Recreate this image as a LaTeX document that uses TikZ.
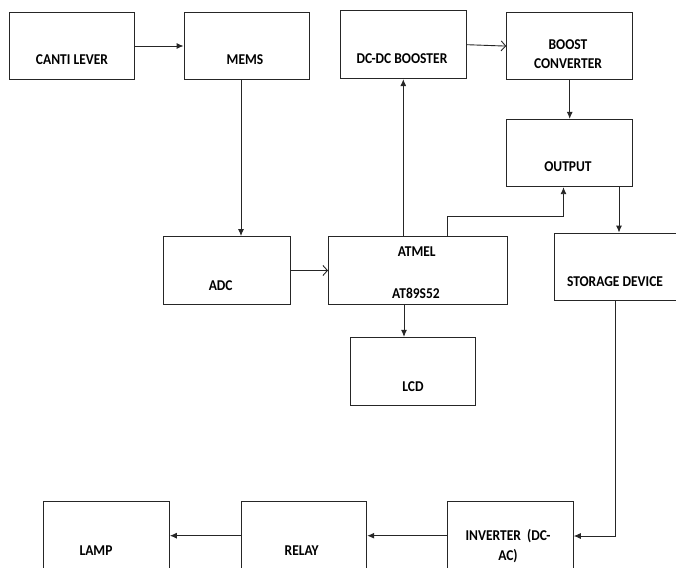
\documentclass[tikz,border=0pt]{standalone}
\usepackage{fontspec}
\setmainfont{Carlito}[FakeStretch=0.9]
\usetikzlibrary{arrows.meta}
\begin{document}
\begin{tikzpicture}[x=1pt,y=-1pt,
  box/.style={draw=black!85,line width=0.9pt,rectangle,inner sep=0pt,minimum width=126pt,minimum height=67.5pt},
  txt/.style={font=\fontsize{15}{19}\selectfont\bfseries,text=black,inner sep=0pt,anchor=base,align=center},
  ln/.style={draw=black!85,line width=0.9pt},
  arr/.style={ln,-{Latex[length=7pt,width=6pt]}},
  oarr/.style={ln,-{Straight Barb[length=4.5pt,width=10pt]}}]
\useasboundingbox (0,0) rectangle (676,567);
\clip (0,0) rectangle (676,567);
% boxes
\node[box,minimum width=125.4pt,minimum height=66.6pt] (cant) at (72,46) {};
\node[box,minimum width=125pt,minimum height=66.6pt] (mems) at (246.5,46) {};
\node[box,minimum width=126.7pt,minimum height=68pt] (dcdc) at (403.3,44.7) {};
\node[box,minimum height=66.8pt] (boost) at (569.7,46.1) {};
\node[box,minimum height=67.4pt] (output) at (569.7,153) {};
\node[box,minimum width=126.7pt,minimum height=68pt] (adc) at (226.7,270.5) {};
\node[box,minimum width=178.5pt,minimum height=68pt] (atmel) at (417.75,270) {};
\node[box,minimum height=67pt] (storage) at (617.3,266.5) {};
\node[box,minimum width=125pt,minimum height=67.7pt] (lcd) at (413.2,371.2) {};
\node[box,minimum height=68pt] (lamp) at (106.4,535.7) {};
\node[box,minimum width=125.7pt,minimum height=68pt] (relay) at (303.9,535.7) {};
\node[box,minimum height=68pt] (inverter) at (510.3,535.7) {};
% texts
\node[txt] (tcant) at (72,65) {CANTI LEVER};
\node[txt] (tmems) at (245,65) {MEMS};
\node[txt] (tdcdc) at (402,63.3) {DC-DC BOOSTER};
\node[txt] (tboost) at (568,68.3) {BOOST\\CONVERTER};
\node[txt] (toutput) at (568,171.7) {OUTPUT};
\node[txt] (tadc) at (220.7,290) {ADC};
\node[txt] (tatmel) at (416.7,256.7) {ATMEL};
\node[txt] (tat89) at (416,298) {AT89S52};
\node[txt] (tlcd) at (413,391.7) {LCD};
\node[txt] (tstorage) at (615,286.7) {STORAGE DEVICE};
\node[txt] (tlamp) at (96,555) {LAMP};
\node[txt] (trelay) at (301.7,555) {RELAY};
\node[txt] (tinv) at (508,560) {INVERTER\ \ (DC-\\[1pt]AC)};
% connectors
\draw[arr] (cant.east) -- (mems.west);
\draw[arr] ([xshift=-5.5pt]mems.south) -- ([xshift=-5.5pt]mems.south |- adc.north);
\draw[oarr] (dcdc.east) -- (boost.west);
\draw[arr] (dcdc.south |- atmel.north) -- (dcdc.south);
\draw[arr] (boost.south) -- (output.north);
\coordinate (a1) at (447.7,236);
\coordinate (a2) at (447.7,216);
\coordinate (a3) at (563.5,216);
\draw[arr] (a1 |- atmel.north) -- (a2) -- (a3) -- (a3 |- output.south);
\coordinate (s1) at (619,190);
\draw[arr] (s1 |- output.south) -- (s1 |- storage.north);
\draw[oarr] (adc.east) -- (adc.east -| atmel.west);
\coordinate (l1) at (404,320);
\draw[arr] (l1 |- atmel.south) -- (l1 |- lcd.north);
\coordinate (v1) at (615.7,536);
\draw[arr] (v1 |- storage.south) -- (v1) -- (v1 -| inverter.east);
\draw[arr] (inverter.west) -- (relay.east);
\draw[arr] (relay.west) -- (lamp.east);
\end{tikzpicture}
\end{document}
